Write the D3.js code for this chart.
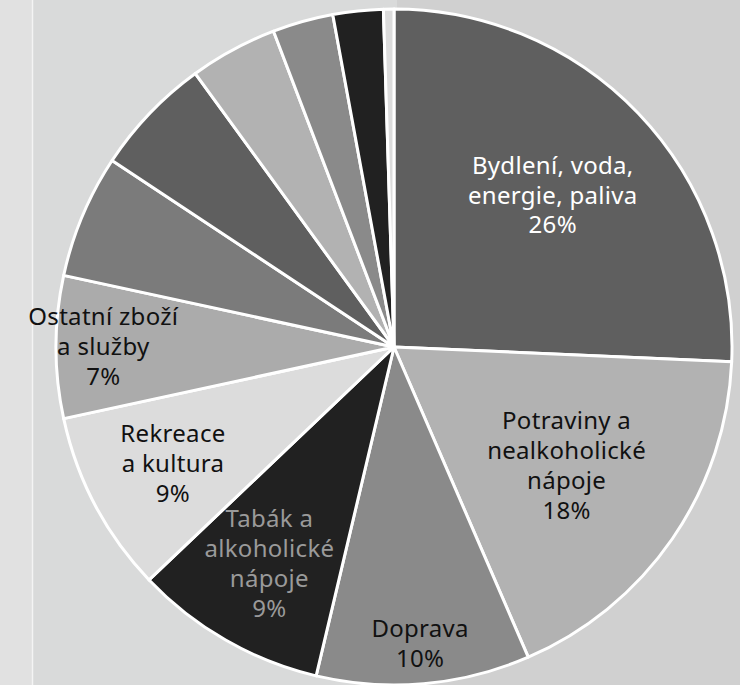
<!DOCTYPE html>
<html>
<head>
<meta charset="utf-8">
<script src="https://cdn.jsdelivr.net/npm/d3@7"></script>
<style>
  html, body { margin: 0; padding: 0; background: #d0d0d0; }
  svg { display: block; }
</style>
</head>
<body>
<svg id="chart"></svg>
<script>
// share of household spending, %
const categories = [
  'Bydlení, voda,\nenergie, paliva',
  'Potraviny a\nnealkoholické\nnápoje',
  'Doprava',
  'Tabák a\nalkoholické\nnápoje',
  'Rekreace\na kultura',
  'Ostatní zboží\na služby',
  'Stravování a ubytování',
  'Bytové vybavení',
  'Odívání a obuv',
  'Pošty a telekomunikace',
  'Zdraví',
  'Vzdělávání'
]
const values = [25.7, 17.8, 10.2, 9.2, 8.7, 6.8, 5.9, 5.7, 4.2, 2.9, 2.4, 0.5]
const shownPct = ['26%', '18%', '10%', '9%', '9%', '7%', null, null, null, null, null, null]
const fills = ['#5f5f5f', '#b2b2b2', '#8a8a8a', '#212121', '#dcdcdc', '#ababab',
  '#7b7b7b', '#5f5f5f', '#b2b2b2', '#8a8a8a', '#212121', '#dcdcdc']
const textColors = ['#ffffff', '#111', '#111', '#9a9a9a', '#111', '#111']

// how far out each label sits (fraction of radius)
const labelRadius = [0.65, 0.62, 0.88, 0.74, 0.74, 0.86]

const width = 740
const height = 685
const cx = 394
const cy = 347
const radius = 338

const svg = d3.select('#chart').attr('width', width).attr('height', height)

// background panels
svg.append('rect').attr('width', width).attr('height', height).attr('fill', '#d0d0d0')
svg.append('rect').attr('x', 0).attr('width', 397).attr('height', height).attr('fill', '#d9dada')
svg.append('rect').attr('x', 0).attr('width', 32).attr('height', height).attr('fill', '#e1e1e1')
svg.append('line').attr('x1', 32.5).attr('x2', 32.5).attr('y1', 0).attr('y2', height)
  .attr('stroke', '#f4f4f4').attr('stroke-width', 1.5)

const pie = d3.pie().sort(null).value((d) => d)
const arcs = pie(values)

const arc = d3.arc().innerRadius(0).outerRadius(radius)

const g = svg.append('g').attr('transform', `translate(${cx},${cy})`)

g.selectAll('path')
  .data(arcs)
  .join('path')
  .attr('d', arc)
  .attr('fill', (d, i) => fills[i])
  .attr('stroke', '#fff')
  .attr('stroke-width', 3)
  .attr('stroke-linejoin', 'round')

const lineH = 30

const labels = g.append('g')
  .attr('font-family', '"Noto Sans", "Open Sans", sans-serif')
  .attr('font-size', 24)
  .attr('letter-spacing', 0.3)
  .attr('text-anchor', 'middle')
  .selectAll('text')
  .data(arcs.filter((d, i) => shownPct[i]))
  .join('text')
  .attr('fill', (d) => textColors[d.index])
  .attr('transform', (d) => {
    const a = (d.startAngle + d.endAngle) / 2
    const r = radius * labelRadius[d.index]
    return `translate(${Math.sin(a) * r},${-Math.cos(a) * r})`
  })

labels.each(function (d) {
  const lines = categories[d.index].split('\n').concat([shownPct[d.index]])
  const n = lines.length
  d3.select(this).selectAll('tspan')
    .data(lines)
    .join('tspan')
    .attr('x', 0)
    .attr('y', (l, i) => (i - (n - 1) / 2) * lineH)
    .attr('dy', '0.35em')
    .text((l) => l)
})
</script>
</body>
</html>
